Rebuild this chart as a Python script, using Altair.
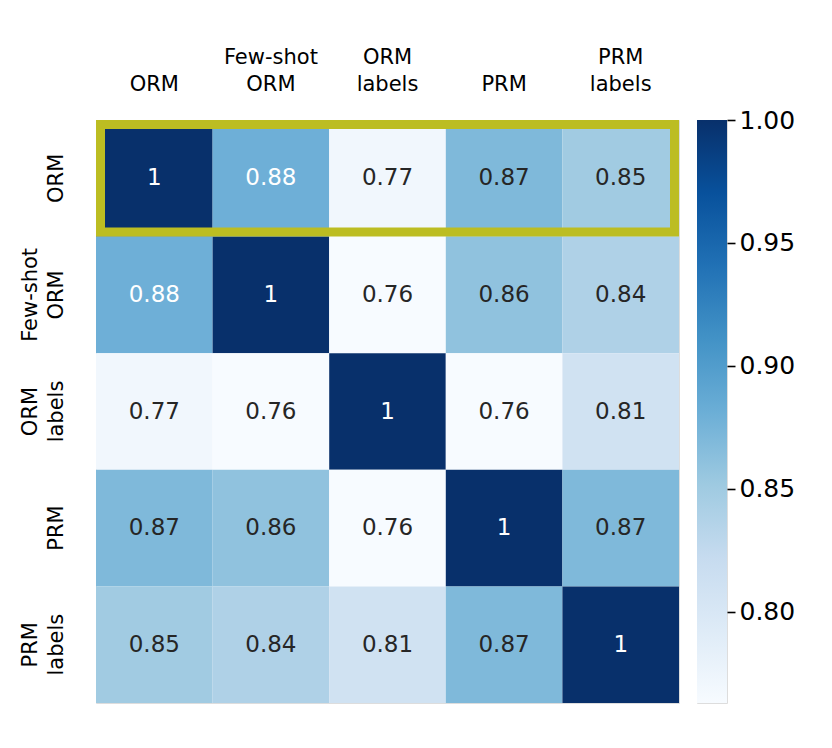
import altair as alt
import pandas as pd
import numpy as np

labels = ["ORM", "Few-shot ORM", "ORM labels", "PRM", "PRM labels"]
matrix = [
    [1.00, 0.88, 0.77, 0.87, 0.85],
    [0.88, 1.00, 0.76, 0.86, 0.84],
    [0.77, 0.76, 1.00, 0.76, 0.81],
    [0.87, 0.86, 0.76, 1.00, 0.87],
    [0.85, 0.84, 0.81, 0.87, 1.00],
]
highlight_row = "ORM"
cbar_ticks = [0.80, 0.85, 0.90, 0.95, 1.00]
vmin, vmax = 0.763, 1.0

blues = ["#f7fbff", "#deebf7", "#c6dbef", "#9ecae1", "#6baed6",
         "#4292c6", "#2171b5", "#08519c", "#08306b"]
stops = list(np.linspace(vmin, vmax, len(blues)))

rows = []
for i, r in enumerate(labels):
    for j, c in enumerate(labels):
        v = matrix[i][j]
        rows.append({"row": r, "col": c, "value": v,
                     "text": "1" if v == 1 else f"{v:.2f}"})
df = pd.DataFrame(rows)
hl = pd.DataFrame({"row": [highlight_row], "col": [labels[0]], "col_end": [labels[-1]]})
cb = pd.DataFrame({"lo": [vmin], "hi": [vmax]})

FONT = "DejaVu Sans"
W = 583
H = 583
LABEL_EXPR = ("length(split(datum.label, ' ')) == 1 ? ['', datum.label] "
              ": split(datum.label, ' ')")

xscale = alt.Scale(domain=labels)
yscale = alt.Scale(domain=labels)

xenc = alt.X("col:N", scale=xscale, title=None,
             axis=alt.Axis(orient="top", ticks=False, domain=False,
                           labelAngle=0, labelFontSize=21, labelFont=FONT,
                           labelColor="#000000", labelPadding=53,
                           labelBaseline="bottom", labelLineHeight=27,
                           labelExpr=LABEL_EXPR))
yenc = alt.Y("row:N", scale=yscale, title=None,
             axis=alt.Axis(orient="left", ticks=False, domain=False,
                           labelAngle=270, labelFontSize=21, labelFont=FONT,
                           labelColor="#000000", labelPadding=56,
                           labelAlign="center", labelBaseline="bottom",
                           labelLineHeight=26,
                           labelExpr=LABEL_EXPR))

base = alt.Chart(df)

heat = base.mark_rect().encode(
    x=xenc,
    y=yenc,
    color=alt.Color("value:Q",
                    scale=alt.Scale(domain=stops, range=blues, clamp=True),
                    legend=None),
)

text = base.mark_text(font=FONT, fontSize=23).encode(
    x=alt.X("col:N", scale=xscale),
    y=alt.Y("row:N", scale=yscale),
    text="text:N",
    color=alt.condition(alt.datum.value > 0.875,
                        alt.value("#ffffff"), alt.value("#262626")),
)

box = alt.Chart(hl).mark_rect(
    filled=False, stroke="#bcbd22", strokeWidth=9,
    height=alt.RelativeBandSize(band=(H / 5 - 9) / (H / 5)),
    xOffset=4.5, x2Offset=-4.5,
).encode(
    x=alt.X("col:N", scale=xscale, bandPosition=0),
    x2=alt.X2("col_end:N", bandPosition=1),
    y=alt.Y("row:N", scale=yscale),
)

main = alt.layer(heat, text, box).properties(width=W, height=H)

grad = alt.LinearGradient(
    gradient="linear", x1=0, x2=0, y1=1, y2=0,
    stops=[alt.GradientStop(offset=i / (len(blues) - 1), color=c)
           for i, c in enumerate(blues)],
)
cbar = alt.Chart(cb).mark_rect(color=grad).encode(
    y=alt.Y("lo:Q", scale=alt.Scale(domain=[vmin, vmax], nice=False, zero=False),
            axis=alt.Axis(orient="right", values=cbar_ticks, format=".2f",
                          tickSize=8, tickWidth=1.6, tickColor="#000000",
                          domain=False, grid=False, title=None,
                          labelFontSize=25, labelFont=FONT,
                          labelColor="#000000", labelPadding=4)),
    y2="hi:Q",
).properties(width=30, height=H)

chart = alt.hconcat(main, cbar, spacing=16).properties(
    padding={"left": 10, "top": 37, "right": 5, "bottom": 5},
).configure_view(stroke=None).configure(background="white")

chart.save("out.html", embed_options={"renderer": "svg", "actions": False})
